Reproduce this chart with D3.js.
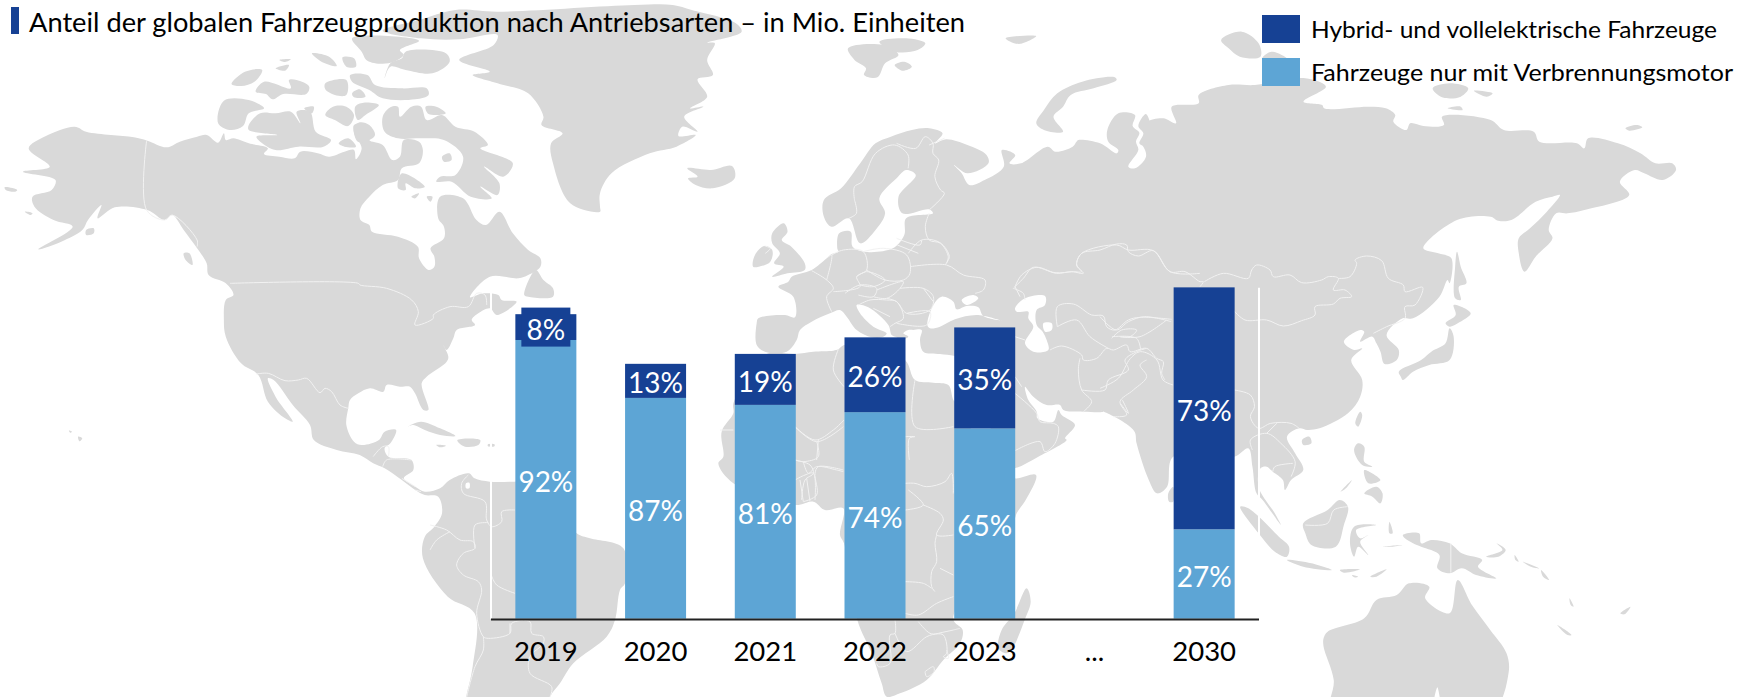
<!DOCTYPE html>
<html><head><meta charset="utf-8">
<script src="https://cdn.jsdelivr.net/npm/d3@7"></script>
<style>html,body{margin:0;padding:0;background:#fff;overflow:hidden}svg{display:block}text{font-family:Lato,"Noto Sans",sans-serif}</style>
</head><body><div id="chart"></div>
<script>
// ---------- chart data ----------
const categories = ["2019","2020","2021","2022","2023","...","2030"];
const years      = ["2019","2020","2021","2022","2023","2030"];
const hybridValues = [7.8,10.3,15.4,22.6,30.5,73.1];   // Mio. Einheiten
const iceValues    = [84.2,66.7,64.6,62.4,57.5,27.0];
const hybridLabels = ["8%","13%","19%","26%","35%","73%"];
const iceLabels    = ["92%","87%","81%","74%","65%","27%"];
const titleText = "Anteil der globalen Fahrzeugproduktion nach Antriebsarten – in Mio. Einheiten";
const legendLabels = ["Hybrid- und vollelektrische Fahrzeuge","Fahrzeuge nur mit Verbrennungsmotor"];

// ---------- background map: outlines traced per reference region ----------
const regions = {z2:[0,0,2.613,3],z3:[1150,0,2.671,3],z4:[600,0,2.613,3],z5:[0,300,2.613,3],z6:[1100,280,2.46,3],
  z7:[700,230,3,3],z8:[780,440,3,3],z9:[430,450,3,3],z10:[1000,100,3,3],z11:[230,240,3,3],z1:[470,270,3,3]};
const land = [
 // Americas
 [['z2',[75,445,120,408,195,380,225,395,290,405,350,412,385,422,435,442,470,425,515,410,540,405,570,428,585,400,590,420,610,415,650,430,700,445,690,462,730,470,770,475,785,455,830,460,860,470,900,455,925,450,930,478,945,445,925,400,925,375,950,370,975,400,965,420,1000,435,1025,480,1045,470,1055,420,1095,425,1105,450,1095,490,1050,505,1040,540,1000,555,965,590,942,625,942,660,965,675,972,695,1040,710,1092,740,1095,775,1120,810,1135,800,1135,770,1125,745,1160,715,1160,680,1145,655,1150,590,1210,595,1245,660,1270,675,1305,635,1340,700,1380,750,1412,775,1412,800,1380,825,1355,835,1280,830]],
  ['z11',[720,172,760,160,805,165,815,180,860,185,800,225,780,205,745,220,725,240,735,255,680,270,670,295,650,330,640,315,655,350,650,365,590,410,575,430,595,510,580,510,555,460,540,440,510,440,470,435,460,455,420,445,385,460,360,480]],
  ['z5',[910,325,905,375,925,425,945,435,990,420,1005,395,1035,390,1020,430,1005,445,1015,470,1075,480,1080,510,1055,535,1085,560,1110,575,1150,565,1175,540,1225,520,1240,535,1280,545,1345,545]],
  ['z9',[320,95,440,250,480,265,580,295,585,400,570,420,555,510,530,560,430,640,390,700,360,741,350,800,100,800]],
  ['z5',[1218,1191,1235,1100,1240,940,1170,890,1105,775,1110,710,1135,680,1155,640,1145,590,1110,585,1085,570,1050,540,1005,505,975,490,940,465,880,450,820,420,810,375,765,315,715,240,700,235,720,290,765,365,745,355,700,305,675,225,630,190,590,110,585,60,590,0]],
  ['z2',[610,885,590,850,545,825,540,790,515,745,480,690,450,645,430,660,385,630,300,622,255,655,265,615,230,660,215,690,160,725,100,748,190,680,140,660,90,620,85,590,135,570,145,540,60,515,130,500]]],
 // Canadian archipelago and neighbours
 ...[[920,115,1095,122,1045,150,1055,165,1015,190,960,182,945,155],[1005,235,1020,200,1060,210,1130,220,1175,185,1165,160,1060,155,1050,175,1020,190],
  [815,160,860,170,880,198,840,185],[895,172,925,175,930,200,905,200],[730,180,760,178,745,186],[720,205,755,195,745,212],[605,252,640,215,685,210,665,245,630,258],
  [668,275,690,245,760,265,755,240,775,240,808,260,800,282,740,282,712,298,695,282],[850,250,905,240,905,285,875,285,850,268],[920,280,940,268,955,290,925,292],
  [915,225,960,225,980,255,1050,265,1115,265,1120,285,1085,298,1000,295,965,270,920,245],[570,370,585,302,650,300,690,325,650,340,635,378,600,390],
  [650,375,680,340,720,340,760,335,785,370,775,335,810,335,825,395,865,420,845,440,780,440,720,450,680,425,670,410,725,405,650,390],[795,325,820,320,815,340],
  [850,345,870,320,905,320,925,345,910,378,875,360],[928,320,950,308,990,315,955,345,935,360],[925,385,940,367,965,375,980,405,965,420,935,425],[885,430,910,415,930,440,900,440],
  [1000,350,1020,322,1040,320,1045,350,1075,320,1100,320,1115,360,1155,345,1190,380,1240,395,1275,435,1255,445,1340,490,1315,530,1265,500,1305,550,1300,585,1255,560,1285,595,1230,590,1180,545,1140,545,1150,530,1190,525,1210,470,1160,420,1100,415,1040,415,1005,395],
  [1112,320,1140,320,1165,340,1120,342],[1040,565,1050,520,1110,560,1085,565,1060,550,1060,570],[1075,590,1095,580,1085,595],[1115,590,1130,590,1125,605],[1155,470,1175,460,1180,480,1160,485],
  [1370,885,1400,810,1420,840,1445,865,1445,890,1380,890],[480,760,495,760,503,795,485,780],[225,690,245,685,245,700,225,705],[65,635,85,640,80,645],[12,562,45,570,40,575,15,570]
 ].map(p=>[['z2',p]]),
 // Greenland
 [['z2',[1000,92,1095,60,1190,30,1300,35]],['z4',[90,15,190,15,240,30,355,70,370,95,280,128,300,130,280,180,295,225,255,238,280,290,235,325,270,320,220,350,255,395,215,380,205,408,250,405,200,440,130,460,30,520,0,580,0,620]],
  ['z2',[1568,635,1490,610,1445,490,1440,430,1470,400,1415,375,1420,350,1380,280,1300,250,1235,225,1280,215,1200,180,1290,135,1300,105,1200,118,1100,115]]],
 // North Atlantic and Arctic islands, Great Britain, Ireland
 ...[[228,505,290,510,345,498,352,535,295,565,250,555,230,535,255,530],[648,145,740,135,780,165,745,190,725,232,690,225,695,205,665,180],[730,125,800,115,850,130,830,150,770,155],[770,195,795,185,815,200,790,212],[1060,115,1140,108,1095,132],
  [1345,232,1350,240,1290,265,1230,285,1210,320,1185,350,1210,395,1160,390,1140,370,1160,330,1195,280,1260,245],
  [450,700,480,670,490,695,475,720,500,740,535,790,535,810,490,820,450,830,480,800,455,790,470,760,450,730],[400,800,405,765,430,738,450,750,445,785,415,800]
 ].map(p=>[['z4',p]]),
 // Eurasia
 [['z4',[585,600,630,565,680,490,720,430,760,410,815,390,860,385,895,400,875,430,905,418,960,435,1010,465,1015,490,960,520,925,495,945,520,965,555,1005,540,1055,500,1050,450,1085,465,1070,490,1100,490,1170,440,1190,455,1235,440,1245,425]],
  ['z10',[235,120,300,130,350,160,355,150,325,125,322,90,355,40,405,45,398,78,418,98,408,125,415,150,385,200,405,205,438,170,430,140,418,130,430,100,415,78,438,42,455,85,445,65,490,55,528,70,515,20]],
  ['z3',[130,310,130,285,210,255,280,255,415,235,470,260,410,305,460,315,465,325,585,320,630,325,655,345,650,365,685,390,695,370,730,378,785,375,780,350,910,360,945,390,1025,395,1040,425,1140,430,1160,445,1170,415,1250,430,1310,460,1350,490,1395,490,1405,510,1370,540,1320,520,1295,510,1255,545,1280,585,1160,630,1115,640,1085,640,1065,690,1075,715,1030,770,1000,815,985,760,985,715,1015,685,1060,635,1095,585,1075,590,1030,605,965,660,930,662,910,650,820,660,730,745,770,760,805,775,800,850]],
  ['z6',[855,0,835,50,770,115,745,115,705,165,735,210,730,240,700,252,690,215,680,190,670,170,640,185,650,155,640,150,600,185,625,210,645,205,618,240,645,300,640,350,610,400,540,445,510,450,490,445,460,470,480,520,500,570,470,600,455,630,450,600,425,575,410,560,395,565,390,620,430,700,445,735,400,660,385,640,375,560,365,505,330,530,180,530,165,620,140,640,120,600,90,490,85,455,50,420,0,390]],
  ['z7',[1210,545,1150,545,1090,540,1080,525,1040,525,1000,500,975,470,985,510,1010,545,1012,565,1060,575,1075,540,1085,555,1125,585,1095,625]],
  ['z8',[860,0,775,50,703,85,650,85]],
  ['z7',[850,400,765,378,720,372,670,365,660,330,665,300,640,300,625,300,610,310,625,320,600,330,590,322,575,315,565,285,505,232,470,225,480,250,520,290,560,310,545,322,515,322,470,300,440,260,420,240,390,250,335,275,300,300,290,330,260,365,195,365,170,345,170,280,175,265,255,255,285,262,280,200,235,170,265,155,275,140,335,120,380,85,395,72,415,65]],
  ['z4',[620,745,625,700,655,695,660,740,690,755,765,745,795,705,800,655,870,640,860,628,790,640,780,590,825,525,800,510,775,535,730,595,745,640,720,690,680,730,650,655,605,680,585,650]]],
 // Sakhalin and the Siberian Arctic islands
 [['z3',[820,755,830,800,845,850,825,860,830,900,815,895,815,800]]],
 [['z3',[755,265,800,250,850,265,830,290,780,292]]],[['z3',[865,272,915,280,900,290]]],[['z3',[795,325,830,320,835,330]]],[['z3',[1270,385,1300,375,1315,382,1280,392]]],
 [['z3',[190,120,245,95,290,130,295,170,240,170,210,145]]],[['z3',[300,175,325,155,370,180,340,190]]],
 // Africa, Madagascar
 [['z7',[200,372,285,372,340,365,400,362,415,358,432,345,500,350,615,390,645,450,700,458,745,465,760,510,770,520]],
  ['z8',[650,90,703,115,768,105,740,175,710,220,703,240,520,537,548,570,540,610,490,660,440,720,360,760,320,770,305,730,275,640,232,540,192,310,180,285,190,205,135,210,100,185,45,195]],
  ['z1',[790,640,745,580,760,560,755,485,790,430,790,400,850,300]]],
 [['z8',[703,520,740,445,752,485,735,537,700,620,680,640,655,625,665,570]]],
 // Caribbean, Hawaii
 ...[[1065,380,1100,365,1150,385,1190,408,1150,405,1110,390,1080,375],[1195,420,1255,420,1250,435,1215,440,1200,430],[1140,435,1165,437,1150,442],[1275,433,1292,433,1292,439,1275,439],[204,410,215,415,208,424],[180,392,188,395,184,398]].map(p=>[['z5',p]]),
 // Asia-Pacific islands, Australia
 ...[[497,480,515,470,520,490,500,495],[628,430,640,395,645,405,635,440],[735,275,790,240,815,215,850,190,860,145,870,170,860,240,810,255,770,275,745,300,740,290],[850,130,875,105,870,75,912,100,880,130,860,140],
  [625,510,635,490,650,500,650,545,670,560,645,555],[650,640,680,620,695,640,690,670,670,650],[650,570,690,600,660,610],[592,635,620,600,605,625],[500,730,560,690,590,660,610,680,600,735,580,800,520,795,505,760],
  [345,680,365,685,440,770,465,800,460,830,430,815,390,760],[460,840,520,850,570,870,500,860],[590,870,640,868,600,878],[665,890,705,868,680,890],[620,885,635,890,625,892],
  [615,790,625,740,680,735,630,750,640,775,660,765,640,785,660,825,635,800,625,830],[712,725,720,760,712,760],[695,800,745,795,720,800],
  [745,765,785,760,790,790,815,780,860,790,890,820,940,840,930,860,975,895,925,885,890,865,860,880,830,865,835,825,790,800,770,790,750,775],[950,830,990,810,975,790,998,810,980,830],
  [1020,825,1030,845,1022,840],[1040,845,1080,865,1060,860],[1085,870,1105,900,1090,890],[1155,955,1165,980,1158,975],[1280,1000,1305,980,1290,1003],[1125,1035,1160,1065,1150,1065],[168,640,180,620,180,665,170,665],
  [550,1075,560,1055,650,1015,680,960,730,945,760,910,810,920,800,955,860,1000,880,900,915,975,960,1050,1000,1120,1005,1180,960,1300,570,1300,575,1200,550,1100]
 ].map(p=>[['z6',p]])
];
const water = [
 [['z7',[682,285,700,225,725,200,760,215,770,238,800,228,835,232,850,258,905,272,830,255,765,268,720,290,690,295]]],   // Black Sea
 [['z7',[785,210,820,195,835,205,800,225]]],                                                                            // Azov
 [['z7',[945,235,975,205,1035,198,1035,225,1010,240,1010,285,1028,305,1040,330,1045,360,1000,365,975,340,1000,290,985,265,985,245,950,245]]], // Caspian
 [['z7',[1030,280,1055,280,1055,300,1035,305]]],                                                                        // Aral
 [['z9',[108,100,118,98,118,115,108,115]]],                                                                             // Maracaibo
 [['z6',[820,1300,830,1222,836,1300]]]
];
const borders = [
 ['z11',[0,130,385,130,390,135,470,145,545,180,565,215,555,255,610,235,610,225,660,200,715,200,740,160,765,165,770,195]],
 ['z2',[383,422,383,630,430,660,450,645,515,720,515,740]],
 ['z11',[80,402,115,400,165,422,205,420,230,415,270,458,285,445,305,455,330,495,355,505]],
 ['z5',[975,470,1000,440,1015,440,1015,470]],['z5',[1000,500,1010,480,1075,480]],['z5',[1050,535,1085,560]],['z5',[1085,570,1100,575]],
 ['z9',[115,75,95,100,100,130,165,155,170,210,185,230,215,215,215,185,255,180]],
 ['z9',[0,225,50,240,90,270,130,275,135,295,100,310,80,345,100,375,145,395,155,420,140,490,160,560,175,565,240,550,245,520,300,515,305,550,340,560,340,580,300,620,300,670,365,710,360,741]],
 ['z9',[0,300,20,270,60,245]],['z9',[135,295,135,225,175,218]],['z9',[185,378,200,405,255,430]],['z9',[160,560,160,600,135,650,110,741]],['z9',[240,550,240,520]],
 ['z1',[975,470,1040,515,1120,470]],['z1',[1040,515,1045,560,1000,575,975,570]],['z1',[1000,575,1015,610,1040,590,1100,600,1120,605]],['z1',[975,630,1005,615,1030,610,1035,690]],['z1',[990,630,1000,695]],['z1',[1010,625,1020,695]],
 ['z8',[190,90,115,80,105,100,110,165,70,185]],['z8',[45,60,90,75,100,100,75,120,65,180]],
 ['z8',[375,130,405,130,440,140,495,125,515,100,520,160]],['z8',[385,150,430,195,375,210]],['z8',[430,195,480,220,490,240,470,285,520,285]],['z8',[470,285,465,310,470,365,455,395,455,440,465,455]],['z8',[480,385,520,405]],['z8',[375,425,430,430,455,445]],['z8',[375,520,415,525,470,490,520,470]],
 ['z8',[345,540,345,580,330,585,330,670,295,680,290,670]],['z8',[345,580,380,635,440,590,475,580,520,570,540,565]],['z8',[415,545,450,580,490,585,500,640,490,650,505,655,500,630]],['z8',[435,695,460,680,462,695,440,710,435,695]],
 ['z7',[60,600,100,600]],['z7',[285,590,345,630,400,600,432,570]],['z7',[355,630,350,690]],['z7',[645,450,645,590,760,590]],['z7',[615,620,645,620,628,625,628,690]],['z7',[415,358,400,420,432,470]],
 ['z7',[945,440,965,470]],['z7',[945,490,1010,550,1020,575,1060,580,1075,590,1065,640,1035,665,1020,635,945,662]],
 ['z7',[945,320,975,330]],['z7',[1140,385,1135,420,1145,480,1175,515,1150,545]],['z7',[1050,360,1085,348,1145,375,1150,390,1190,385,1220,355,1240,360,1280,345,1290,365,1340,355,1370,385,1390,395,1385,430,1395,450]],
 ['z7',[1145,480,1215,480,1225,450,1285,420,1275,390,1310,365,1340,355]],['z7',[1340,390,1320,405,1340,440,1300,480,1260,515,1280,555,1240,560]],
 ['z7',[945,170,965,135,1010,112,1065,128,1120,125,1145,125,1130,105,1145,70,1250,45,1285,60,1360,62,1410,125,1500,130]],['z7',[945,170,960,200]],
 ['z7',[1072,290,1072,230,1120,222,1175,255,1210,258,1220,290,1245,300,1285,270,1320,262,1415,268]],['z7',[1072,290,1130,270,1170,320,1225,355]],['z7',[1235,325,1265,300,1310,300,1290,320,1260,320,1320,320,1400,270]],
 ['z7',[335,122,380,150,400,175,380,200,395,245]],['z7',[380,85,395,75,380,150]],['z7',[395,75,430,60,490,65,500,120,470,140,480,170,400,185]],['z7',[490,65,550,55,620,75,630,130,610,150,555,150,500,120]],['z7',[470,140,500,125,555,150,520,170,480,165]],['z7',[435,190,480,165,530,175,520,200,475,195]],['z7',[530,180,610,155,600,175,560,205,520,200]],
 ['z7',[600,175,670,175,700,200,690,240,620,250,590,215,560,205]],['z7',[630,110,740,105,790,135,855,150,850,180,825,190]],['z7',[625,70,665,30,720,38,748,80,735,105]],['z7',[590,25,660,45,665,30]],['z7',[592,45,655,70]],['z7',[670,175,700,215]],['z7',[620,250,690,245,680,285,590,280]],['z7',[475,225,510,210,560,210,590,215,610,265,585,280,570,290]],['z7',[520,235,570,260]],
 ['z4',[665,600,665,560,685,545,720,460,770,435,805,465,805,505]],['z4',[775,430,825,445,850,410,870,430,870,460,885,480,875,530,890,570,900,580,860,630]],['z4',[860,435,900,415]],['z4',[665,600,670,640,650,655]],['z4',[860,640,850,680,860,720,890,730,910,770,905,790]],['z4',[430,738,445,745,432,760]],
 ['z10',[40,565,70,535,100,502,170,520,215,515,250,520,230,495,245,460,300,450,350,432,380,435,385,455,415,468,460,452,510,515,555,515,600,545,610,545,600,560]],['z10',[40,565,70,580,75,600]],
 ['z10',[613,545,670,520,745,535,755,510,770,495,810,510,820,530,870,525,905,548,965,540,985,530,1015,535,1000,570,1035,570,1055,590,1020,595,1000,612,945,620,945,645,905,662,850,678,800,660,735,660,700,630]],
 ['z10',[1015,535,1050,530,1070,490,1065,480,1100,468,1145,482,1165,535,1210,555,1215,575,1268,562,1245,615,1215,620,1215,655,1160,680,1120,700]],
 ['z6',[330,330,370,345,380,380,370,410,390,445,420,430,470,430,490,445]],['z6',[375,510,370,480,410,460,445,490,480,545,470,590]],['z6',[425,575,430,560,475,550]],['z6',[410,460,435,430]],
 ['z6',[0,325,45,295,75,235,100,215,140,240,155,300,180,315]],['z6',[55,360,70,400,50,370]],['z6',[0,110,40,150,70,125,110,110,175,125]],['z6',[30,170,90,175,100,210]],
 ['z6',[505,735,560,730,575,690,610,680]],['z6',[863,790,863,878]]
];

// ---------- drawing ----------
const W=1737,H=697;
const svg=d3.select("#chart").append("svg").attr("width",W).attr("height",H).attr("viewBox",[0,0,W,H]);
const regionScale=Object.fromEntries(Object.entries(regions).map(([k,[x0,y0,sx,sy]])=>[k,{
  x:d3.scaleLinear().domain([0,sx]).range([x0,x0+1]), y:d3.scaleLinear().domain([0,sy]).range([y0,y0+1])}]));
const place=(name,flat)=>d3.range(0,flat.length,2).map(i=>[regionScale[name].x(flat[i]),regionScale[name].y(flat[i+1])]);
const outline=segs=>segs.flatMap(([n,f])=>place(n,f));
const coast=d3.line().curve(d3.curveCatmullRomClosed.alpha(0.5));
const frontier=d3.line().curve(d3.curveCatmullRom.alpha(0.5));
const mapG=svg.append("g");
mapG.selectAll("path.land").data(land).join("path").attr("class","land").attr("d",d=>coast(outline(d))).attr("fill","#d9d9d9");
mapG.selectAll("path.water").data(water).join("path").attr("class","water").attr("d",d=>coast(outline(d))).attr("fill","#fff");
mapG.selectAll("path.border").data(borders).join("path").attr("class","border").attr("d",d=>frontier(place(d[0],d[1]))).attr("fill","none").attr("stroke","#f2f2f2").attr("stroke-width",1);

const x=d3.scaleBand().domain(categories).range([491,1259]).paddingInner(0.444).paddingOuter(0.222);
const y=d3.scaleLinear().domain([0,100]).range([618.7,287.7]);
const plot=svg.append("g");
// white plot-area edges
plot.selectAll("line.edge").data(x.range()).join("line").attr("class","edge").attr("x1",d=>d).attr("x2",d=>d).attr("y1",y(100)).attr("y2",y(0)).attr("stroke","#fff").attr("stroke-width",2);

const rows=years.map((yr,i)=>({yr,hybrid:hybridValues[i],ice:iceValues[i],hl:hybridLabels[i],il:iceLabels[i]}));
const stack=d3.stack().keys(["ice","hybrid"])(rows);
const colors={ice:"#5da5d5",hybrid:"#164194"};
plot.selectAll("g.series").data(stack).join("g").attr("class","series").attr("fill",s=>colors[s.key])
  .selectAll("rect").data(s=>s).join("rect")
  .attr("x",d=>x(d.data.yr)).attr("width",x.bandwidth()).attr("y",d=>y(d[1])).attr("height",d=>y(d[0])-y(d[1]));

const labelData=stack.flatMap(s=>s.map(d=>({yr:d.data.yr,mid:(d[0]+d[1])/2,t:s.key==="ice"?d.data.il:d.data.hl,key:s.key})));
// the 8% label sits in its own dark box
const small=labelData.find(d=>d.t==="8%");
plot.append("rect").attr("x",x(small.yr)+x.bandwidth()/2-24.5).attr("width",49).attr("y",y(small.mid)-19.5).attr("height",39).attr("fill",colors.hybrid);
plot.selectAll("text.val").data(labelData).join("text").attr("class","val")
  .attr("x",d=>x(d.yr)+x.bandwidth()/2).attr("y",d=>y(d.mid)+12.5).attr("text-anchor","middle").attr("fill","#fff").attr("font-size",28).text(d=>d.t);

const axis=svg.append("g").attr("transform",`translate(0,${y(0)+0.8})`).call(d3.axisBottom(x).tickSize(0).tickPadding(0));
axis.select(".domain").attr("stroke","#222").attr("stroke-width",2).attr("d",`M${x.range()[0]},0H${x.range()[1]}`);
axis.selectAll("text").attr("font-size",27.5).attr("fill","#000").attr("font-family","Lato").attr("dy",null).attr("y",41);

svg.append("rect").attr("x",11).attr("y",7).attr("width",8).attr("height",27).attr("fill",colors.hybrid);
svg.append("text").attr("x",29).attr("y",32).attr("font-size",26.5).attr("fill","#000").attr("textLength",936).attr("lengthAdjust","spacingAndGlyphs").text(titleText);

const legendColors=[colors.hybrid,colors.ice];
const legendY=d3.scalePoint().domain(legendLabels).range([15,58]);
const legendWidths=[406,422];
const lg=svg.selectAll("g.lg").data(legendLabels).join("g").attr("class","lg").attr("transform",d=>`translate(1262,${legendY(d)})`);
lg.append("rect").attr("width",38).attr("height",28).attr("fill",(d,i)=>legendColors[i]);
lg.append("text").attr("x",49).attr("y",23).attr("font-size",24).attr("fill","#000").attr("textLength",(d,i)=>legendWidths[i]).attr("lengthAdjust","spacingAndGlyphs").text(d=>d);
</script></body></html>
